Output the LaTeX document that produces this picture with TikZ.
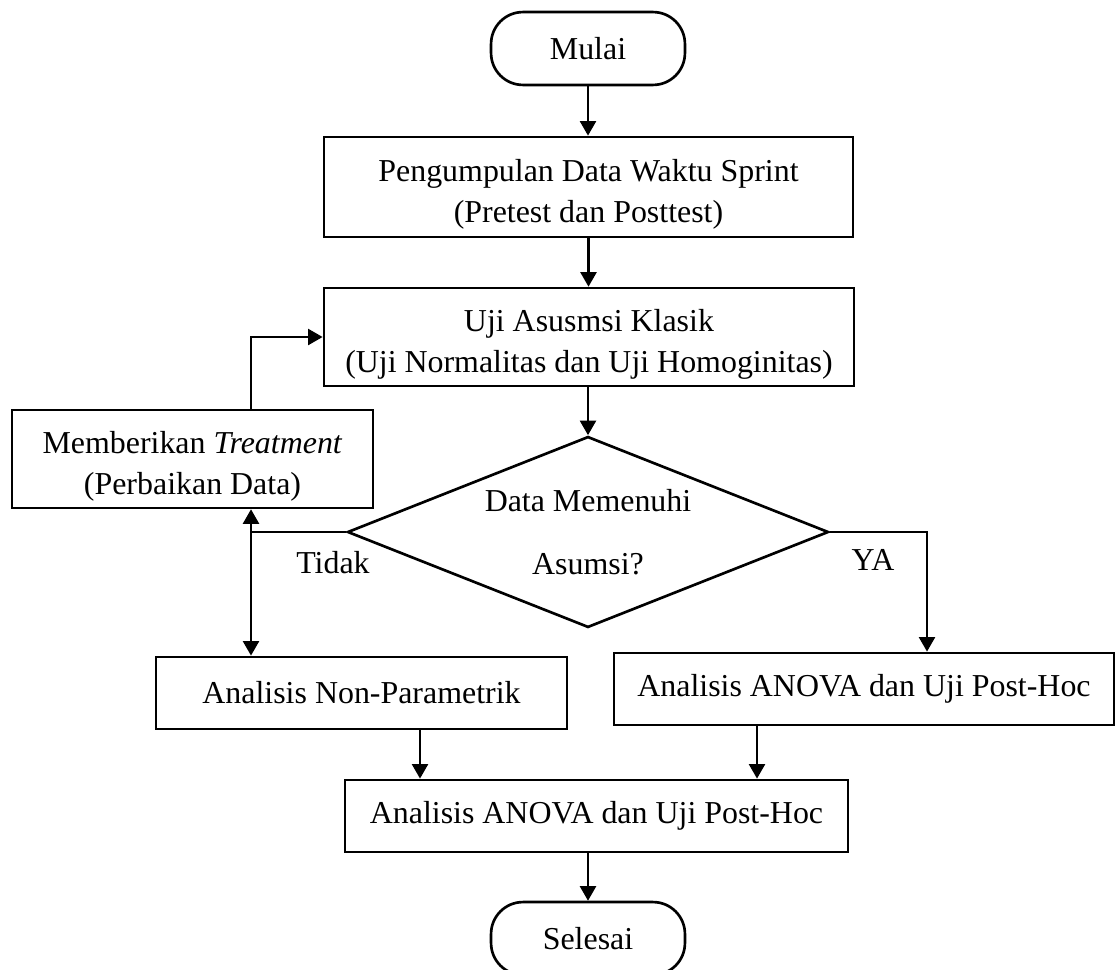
\documentclass[tikz,border=0pt]{standalone}
\usepackage{fontspec}
\setmainfont{Liberation Serif}
\usetikzlibrary{shapes.geometric,arrows.meta}
\newcommand{\atas}{\rule{0pt}{14pt}}

\begin{document}
\begin{tikzpicture}
[x=0.376pt,y=-0.376pt,
font=\fontsize{12pt}{15.4pt}\selectfont,
terminal/.style={rectangle,rounded corners=12pt,draw,line width=1pt,minimum width=72.9pt,minimum height=27.4pt},
process/.style={rectangle,draw,line width=1pt,align=center,inner sep=2pt},
decision/.style={diamond,draw,line width=1pt,align=center,aspect=2.5,inner sep=0pt,
  minimum width=180.9pt,minimum height=71.8pt,font=\fontsize{12pt}{23.7pt}\selectfont},
conn/.style={line width=1pt},
flow/.style={conn,-{Triangle[length=5.5pt,width=6pt]}}]
\useasboundingbox (0,0) rectangle (1117,969);
% nodes
\node[terminal] (mulai) at (588,48.5) {Mulai};
\node[process,minimum width=198.9pt,minimum height=37.6pt] (kumpul) at (588.5,187)
  {\atas Pengumpulan Data Waktu Sprint\\(Pretest dan Posttest)};
\node[process,minimum width=199.3pt,minimum height=36.8pt] (asumsi) at (589,337)
  {\atas Uji Asusmsi Klasik\\(Uji Normalitas dan Uji Homoginitas)};
\node[process,minimum width=135.7pt,minimum height=36.8pt] (treat) at (192.5,459)
  {\atas Memberikan \textit{Treatment}\\(Perbaikan Data)};
\node[decision] (cek) at (588,532) {Data Memenuhi\\Asumsi?};
\node[process,minimum width=154.5pt,minimum height=27.1pt] (nonpar) at (361.5,693)
  {Analisis Non-Parametrik};
\node[process,minimum width=188pt,minimum height=27.1pt] (anova) at (864,689)
  {Analisis ANOVA dan Uji Post-Hoc};
\node[process,minimum width=189.1pt,minimum height=27.1pt] (hasil) at (596.5,816)
  {Analisis ANOVA dan Uji Post-Hoc};
\node[terminal] (selesai) at (588,938.5) {Selesai};
\node (tidak) at (333,563) {Tidak};
\node (ya) at (873,560) {YA};
% bends
\coordinate (kiri) at (251,532);
\coordinate (kanan) at (927,532);
\coordinate (turun1) at (420,0);
\coordinate (turun2) at (757,0);
% connectors
\draw[flow] (mulai) -- (mulai |- kumpul.north);
\draw[flow] (kumpul) -- (kumpul |- asumsi.north);
\draw[flow] (cek.north |- asumsi.south) -- (cek.north);
\draw[flow] (kiri |- treat.north) |- (asumsi.west);
\draw[conn] (cek.west) -- (kiri);
\draw[flow] (kiri) -- (kiri |- treat.south);
\draw[flow] (kiri) -- (kiri |- nonpar.north);
\draw[flow] (cek.east) -- (kanan) -- (kanan |- anova.north);
\draw[flow] (turun1 |- nonpar.south) -- (turun1 |- hasil.north);
\draw[flow] (turun2 |- anova.south) -- (turun2 |- hasil.north);
\draw[flow] (selesai |- hasil.south) -- (selesai.north);
\end{tikzpicture}
\end{document}
